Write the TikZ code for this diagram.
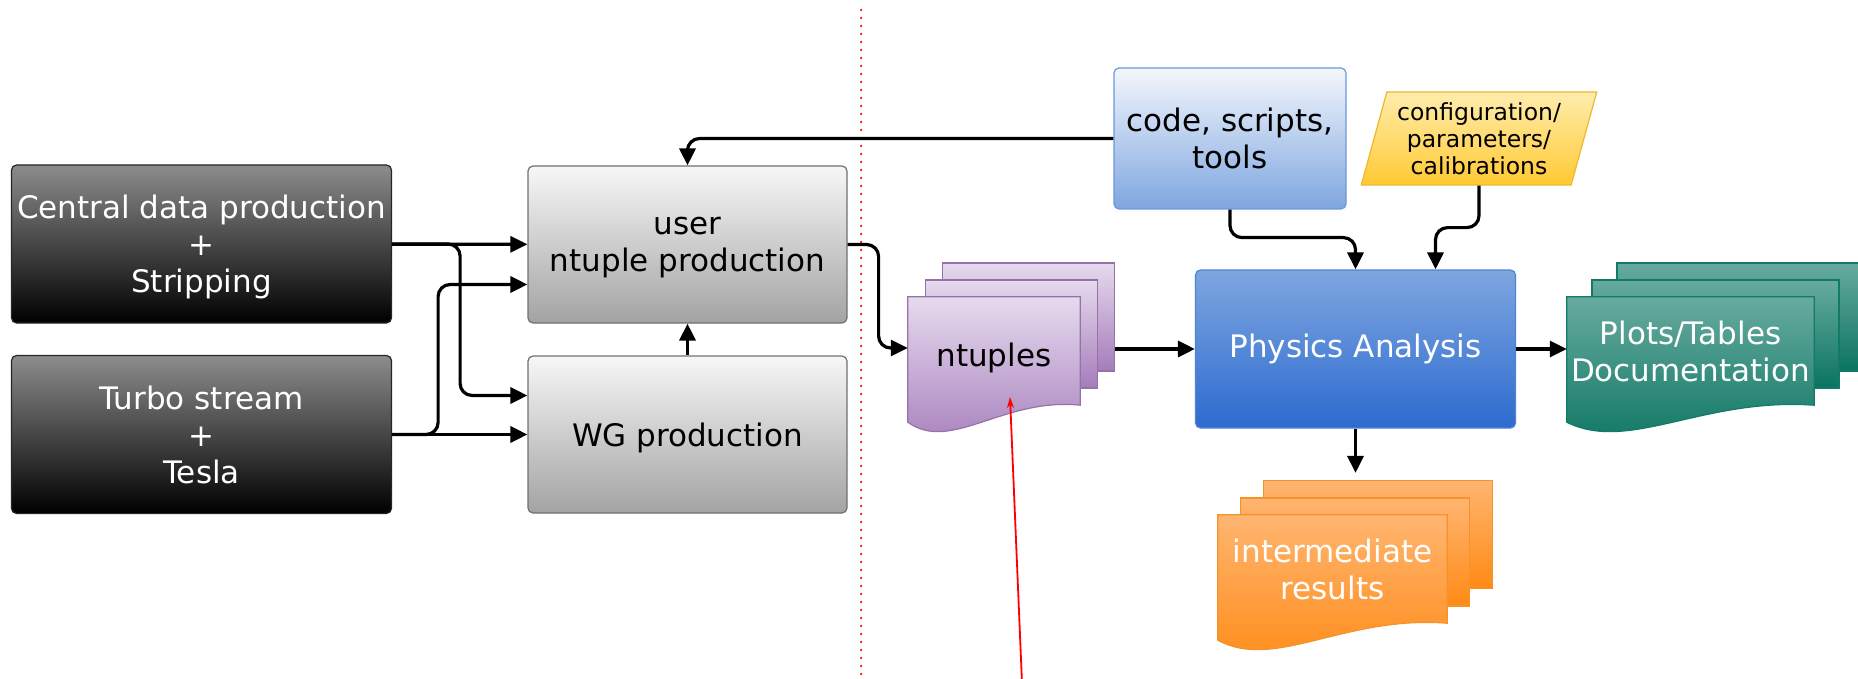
\documentclass[tikz,border=0pt]{standalone}
\usepackage{fontspec}
\setmainfont{DejaVu Sans}
\usepackage{tikz}
\usetikzlibrary{arrows.meta,shapes.geometric,backgrounds}

\definecolor{darktop}{HTML}{8C8C8C}
\definecolor{greytop}{HTML}{F7F7F7}
\definecolor{greybot}{HTML}{A3A3A3}
\definecolor{greyline}{HTML}{707070}
\definecolor{codetop}{HTML}{F4F7FC}
\definecolor{codebot}{HTML}{7EA6E0}
\definecolor{codeline}{HTML}{6C98D8}
\definecolor{phystop}{HTML}{7EA6E0}
\definecolor{physbot}{HTML}{2D6BCF}
\definecolor{physline}{HTML}{4F83D6}
\definecolor{conftop}{HTML}{FFEDAD}
\definecolor{confbot}{HTML}{FFC933}
\definecolor{confline}{HTML}{EDB82B}
\definecolor{ntuptop}{HTML}{E6DAEE}
\definecolor{ntupbot}{HTML}{A47CBA}
\definecolor{ntupline}{HTML}{9673A6}
\definecolor{plotstop}{HTML}{67AB9F}
\definecolor{plotsbot}{HTML}{0A7460}
\definecolor{plotsline}{HTML}{127A66}
\definecolor{inttop}{HTML}{FFB570}
\definecolor{intbot}{HTML}{FF8A16}
\definecolor{intline}{HTML}{F5922A}

\newcommand{\bigtxt}{\fontsize{31}{37}\selectfont}
\newcommand{\smalltxt}{\fontsize{23.5}{27}\selectfont}

\tikzset{
  box/.style={rectangle, rounded corners=5pt, inner sep=0pt, align=center, font=\bigtxt, line width=1.2pt},
  darkbox/.style={box, draw=black!85, top color=darktop, bottom color=black, text=white,
    minimum width=380pt, minimum height=158pt, text depth=0pt},
  greybox/.style={box, draw=greyline, top color=greytop, bottom color=greybot,
    minimum width=319pt, minimum height=157pt, text depth=0pt},
  codebox/.style={box, draw=codeline, top color=codetop, bottom color=codebot,
    minimum width=232pt, minimum height=141pt},
  physbox/.style={box, draw=physline, top color=phystop, bottom color=physbot, text=white,
    minimum width=320pt, minimum height=158pt},
  confbox/.style={trapezium, trapezium left angle=73, trapezium right angle=107,
    trapezium stretches=true, draw=confline, line width=1.2pt, top color=conftop, bottom color=confbot,
    minimum width=236pt, minimum height=93pt, inner sep=2pt, align=center, font=\smalltxt},
  sheet/.style={rectangle, inner sep=0pt, minimum height=108pt, align=center, font=\bigtxt},
  ntupcol/.style={draw=ntupline, line width=1.2pt, top color=ntuptop, bottom color=ntupbot},
  plotscol/.style={draw=plotsline, line width=1.2pt, top color=plotstop, bottom color=plotsbot},
  intcol/.style={draw=intline, line width=1.2pt, top color=inttop, bottom color=intbot},
  conn/.style={line width=3.2pt, rounded corners=12pt, -{Triangle[length=17pt,width=16pt]}},
  redarrow/.style={red, line width=1.8pt, -{Stealth[length=11pt,width=7pt]}},
  sepline/.style={red, line width=2.5pt, line cap=round, dash pattern=on 0pt off 8pt}
}

\begin{document}
\begin{tikzpicture}[x=1pt,y=-1pt]
\useasboundingbox (0,0) rectangle (1858,679);

\draw [sepline] (861,10) -- (861,679);

\node[darkbox] (central) at (201.5,244) {Central data production\\+\\Stripping};
\node[darkbox] (turbo) at (201.5,434.5) {Turbo stream\\+\\Tesla};
\node[greybox, execute at begin node={\rule{0pt}{28pt}}] (user) at (687.5,244.5) {user\\ntuple production};
\node[greybox] (wg) at (687.5,434.5) {WG production};
\node[codebox] (code) at (1230,138.5) {code, scripts,\\tools};
\node[confbox] (conf) at (1479,138.5) {configuration/\\parameters/\\calibrations};
\node[physbox] (phys) at (1355.5,349) {Physics Analysis};

\node[sheet, minimum width=172pt, text depth=0pt, execute at begin node={\rule{0pt}{30pt}}] (ntup) at (994,351) {ntuples};
\node[sheet, minimum width=247pt, text=white] (plots) at (1690.5,351) {Plots/Tables\\Documentation};
\node[sheet, minimum width=229pt, text=white] (inter) at (1332.5,569) {intermediate\\results};

\begin{scope}[on background layer]
\node[sheet, ntupcol, minimum width=172pt] (ntupC) at (1028.5,317) {};
\node[sheet, ntupcol, minimum width=172pt] (ntupB) at (1011.5,334) {};
\path[ntupcol] (ntup.north west) -- (ntup.north east) -- (ntup.south east)
  .. controls +(-77,-8) and +(43,31) .. ([yshift=-17pt]ntup.south west) -- cycle;
\node[sheet, plotscol, minimum width=247pt] (plotsC) at (1740.5,317) {};
\node[sheet, plotscol, minimum width=247pt] (plotsB) at (1715.5,334) {};
\path[plotscol] (plots.north west) -- (plots.north east) -- (plots.south east)
  .. controls +(-111,-8) and +(62,31) .. ([yshift=-17pt]plots.south west) -- cycle;
\node[sheet, intcol, minimum width=229pt] (interC) at (1378,534.5) {};
\node[sheet, intcol, minimum width=229pt] (interB) at (1355,552) {};
\path[intcol] (inter.north west) -- (inter.north east) -- (inter.south east)
  .. controls +(-103,-8) and +(57,31) .. ([yshift=-17pt]inter.south west) -- cycle;
\end{scope}

\draw [conn] (central) -- (user);
\draw [conn] (central.east) -- ++(68,0) |- ([yshift=39pt]wg.west);
\draw [conn] (turbo) -- (wg);
\draw [conn] (turbo.east) -- ++(46,0) |- ([yshift=-40pt]user.west);
\draw [conn] (wg) -- (user);
\draw [conn] (code.west) -| (user.north);
\draw [conn] (user.east) -- ++(31,0) |- ([yshift=3pt]ntup.west);
\draw [conn] (phys.west -| ntupC.east) -- (phys.west);
\draw [conn] (code.south) -- ++(0,28) -| (phys.north);
\draw [conn] (conf.south) -- ++(0,42) -| ([xshift=80pt]phys.north);
\draw [conn] (phys.east) -- (phys.east -| plots.west);
\draw [conn, shorten >=7pt] (phys.south) -- (phys.south |- interC.north);

\coordinate (redtail) at (1022,683);
\coordinate (redtip) at (1010,397);
\draw [redarrow] (redtail) -- (redtip);
\end{tikzpicture}
\end{document}
